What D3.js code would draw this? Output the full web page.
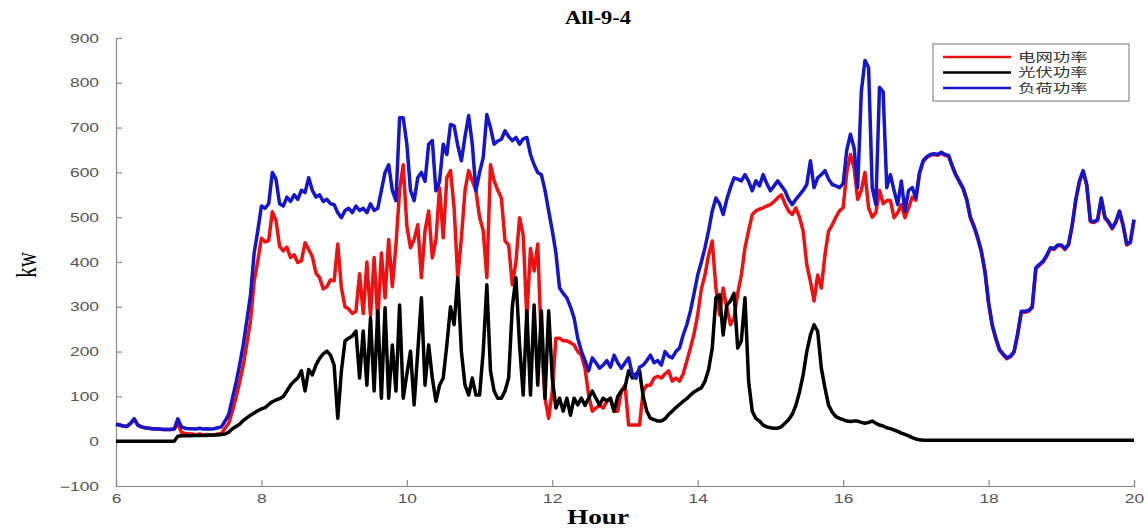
<!DOCTYPE html>
<html>
<head>
<meta charset="utf-8">
<script src="https://cdn.jsdelivr.net/npm/d3@7/dist/d3.min.js"></script>
<style>
  html, body { margin: 0; padding: 0; background: #fff; }
  svg { display: block; }
</style>
</head>
<body>
<svg id="chart" width="1148" height="529"></svg>
<script>
// Sampling grid: one reading every 3 minutes from 06:00 to 20:00
const hours = d3.range(0, 281).map(i => 6 + i * 0.05);

// Grid power (kW), one row per hour
const gridPower = [
  38,36,34,33,40,50,36,32,30,29,28,27,27,26,26,26,27,39,20,17,
  16,16,14,16,14,15,13,14,16,17,29,40,67,97,132,169,218,269,357,402,
  453,445,448,512,493,435,425,433,410,416,399,403,443,428,412,375,365,340,345,360,
  358,440,342,300,295,285,290,374,285,400,280,410,270,420,320,450,345,438,560,617,
  480,432,450,483,365,470,514,409,450,566,454,588,604,521,365,454,560,604,581,559,
  500,470,365,617,581,560,543,447,438,349,400,499,460,275,430,380,440,215,96,51,
  112,230,230,224,224,220,215,200,192,163,103,67,74,80,74,89,95,67,67,112,
  125,36,36,36,36,112,125,125,141,145,141,150,157,134,141,134,150,179,208,240,
  282,340,371,416,447,342,282,342,298,260,275,330,371,432,470,506,514,518,521,525,
  528,535,543,550,530,514,506,521,500,469,394,357,313,371,342,416,469,483,500,514,
  521,600,640,610,540,560,600,521,500,510,560,530,537,537,499,510,528,499,520,545,
  538,597,624,633,638,640,638,643,638,636,613,593,578,563,538,498,478,453,423,378,
  308,258,228,203,193,184,188,198,238,288,288,290,298,385,393,400,413,430,428,436,
  436,428,438,481,538,579,602,571,490,488,493,541,498,488,474,488,512,481,438,443,
  493
];

// Photovoltaic power (kW)
const pvPower = [
  0,0,0,0,0,0,0,0,0,0,0,0,0,0,0,0,0,11,12,12,
  12,12,13,13,13,13,14,14,14,15,16,20,28,33,38,46,52,58,63,68,
  72,75,82,88,92,95,100,112,125,134,141,157,112,160,148,170,185,195,201,192,
  170,51,157,224,230,235,246,141,246,125,275,112,291,96,298,96,215,112,304,96,
  150,201,81,200,320,125,215,141,89,125,141,215,300,260,365,200,125,103,141,103,
  103,200,349,157,112,96,96,112,141,300,365,215,103,291,103,304,125,291,96,291,
  141,74,96,67,96,58,96,81,96,80,96,112,96,81,96,90,96,67,100,112,
  120,157,141,150,157,100,67,51,48,45,45,50,60,67,75,82,89,95,103,110,
  115,119,134,160,208,320,327,237,304,313,330,208,224,320,134,67,51,45,36,32,
  30,29,29,32,40,48,60,80,110,148,200,237,260,245,163,119,80,65,55,51,
  48,45,44,45,45,42,40,42,45,40,36,34,30,28,25,22,18,15,12,8,
  5,3,2,2,2,2,2,2,2,2,2,2,2,2,2,2,2,2,2,2,
  2,2,2,2,2,2,2,2,2,2,2,2,2,2,2,2,2,2,2,2,
  2,2,2,2,2,2,2,2,2,2,2,2,2,2,2,2,2,2,2,2,
  2
];

// Load power (kW)
const loadPower = [
  38,36,34,33,40,50,36,32,30,29,28,27,27,26,26,26,27,50,32,29,
  28,28,27,29,27,28,27,28,30,32,45,60,95,130,170,215,270,327,420,470,
  525,520,530,600,585,530,525,545,535,550,540,560,555,588,560,545,550,535,540,530,
  528,510,499,515,520,510,525,515,520,510,530,515,520,560,600,617,560,537,722,722,
  663,560,537,588,600,580,663,671,559,580,663,640,707,704,660,626,680,727,663,559,
  600,633,729,700,663,670,674,693,680,671,678,663,675,678,640,617,600,595,560,514,
  470,420,342,330,320,300,275,230,201,180,157,186,175,163,170,180,165,192,175,163,
  175,186,150,140,165,170,180,192,175,180,170,200,190,186,200,208,237,260,291,330,
  371,400,432,470,514,543,530,506,540,566,588,585,581,595,580,559,581,570,595,575,
  559,570,581,570,559,540,528,540,550,560,573,626,566,588,595,604,585,573,570,566,
  575,650,685,655,566,780,850,834,566,528,790,780,566,595,560,528,581,514,560,566,
  543,600,626,635,640,642,640,645,640,638,615,595,580,565,540,500,480,455,425,380,
  310,260,230,205,195,186,190,200,240,290,290,292,300,387,395,402,415,432,430,438,
  438,430,440,483,540,581,604,573,492,490,495,543,500,490,476,490,514,483,440,445,
  495
];

const seriesNames = ["电网功率", "光伏功率", "负荷功率"];
const seriesColors = ["#ee1111", "#000000", "#1515cc"];
const seriesValues = [gridPower, pvPower, loadPower];

const xTicks = [6, 8, 10, 12, 14, 16, 18, 20];
const yTicks = [-100, 0, 100, 200, 300, 400, 500, 600, 700, 800, 900];

const title = "All-9-4";
const xLabel = "Hour";
const yLabel = "kw";

const svg = d3.select("#chart");
const x = d3.scaleLinear().domain([6, 20]).range([116, 1134]);
const y = d3.scaleLinear().domain([-100, 900]).range([486, 38]);

// Axes (MATLAB-style: ticks point inward, grey line)
const axisColor = "#8a8a8a";
const labelStretch = 1.45;

const xAxis = svg.append("g")
  .attr("transform", `translate(0,${y(-100)})`)
  .call(d3.axisBottom(x).tickValues(xTicks).tickSize(-6).tickPadding(0).tickFormat(d3.format("d")));
const yAxis = svg.append("g")
  .attr("transform", `translate(${x(6)},0)`)
  .call(d3.axisLeft(y).tickValues(yTicks).tickSize(-6).tickPadding(0).tickFormat(d3.format("d")));

[xAxis, yAxis].forEach(g => {
  g.select(".domain").attr("stroke", axisColor).attr("stroke-width", 1.2);
  g.selectAll(".tick line").attr("stroke", axisColor).attr("stroke-width", 1.2);
  g.selectAll(".tick text")
    .attr("fill", "#555")
    .attr("font-family", "'Liberation Sans', Arial, sans-serif")
    .attr("font-size", 12);
});
xAxis.selectAll(".tick text")
  .attr("y", null).attr("dy", null)
  .attr("transform", `translate(0,17) scale(${labelStretch},1)`);
yAxis.selectAll(".tick text")
  .attr("x", null).attr("dy", null)
  .attr("transform", `translate(-17,4) scale(${labelStretch},1)`);

// Series: grid first, then PV, load on top
const line = d3.line()
  .x((d, i) => x(hours[i]))
  .y(d => y(d));

seriesValues.forEach((vals, k) => {
  svg.append("path")
    .datum(vals)
    .attr("fill", "none")
    .attr("stroke", seriesColors[k])
    .attr("stroke-width", 3.5)
    .attr("stroke-linejoin", "round")
    .attr("d", line);
});

// Title and axis labels
svg.append("text")
  .attr("transform", "translate(598,24) scale(1.25,1)")
  .attr("text-anchor", "middle")
  .attr("font-family", "'Liberation Serif', 'Times New Roman', serif")
  .attr("font-weight", "bold")
  .attr("font-size", 18)
  .text(title);

svg.append("text")
  .attr("transform", "translate(598,524) scale(1.3,1)")
  .attr("text-anchor", "middle")
  .attr("font-family", "'Liberation Serif', 'Times New Roman', serif")
  .attr("font-weight", "bold")
  .attr("font-size", 21)
  .text(xLabel);

svg.append("text")
  .attr("transform", "translate(36,265) rotate(-90) scale(1,1.4)")
  .attr("text-anchor", "middle")
  .attr("font-family", "'Liberation Serif', 'Times New Roman', serif")
  .attr("font-size", 21)
  .text(yLabel);

// Legend
const legend = svg.append("g").attr("transform", "translate(933,44)");
legend.append("rect")
  .attr("width", 196).attr("height", 57)
  .attr("fill", "#fff")
  .attr("stroke", "#8a8a8a").attr("stroke-width", 1.2);
seriesNames.forEach((name, k) => {
  const row = legend.append("g").attr("transform", `translate(0,${13 + k * 15.5})`);
  row.append("line")
    .attr("x1", 10).attr("x2", 78)
    .attr("stroke", seriesColors[k]).attr("stroke-width", 2.5);
  row.append("text")
    .attr("transform", "translate(85,4.5) scale(1.45,1)")
    .attr("font-family", "'Noto Sans CJK SC', sans-serif")
    .attr("font-size", 12)
    .attr("fill", "#333")
    .text(name);
});
</script>
</body>
</html>
